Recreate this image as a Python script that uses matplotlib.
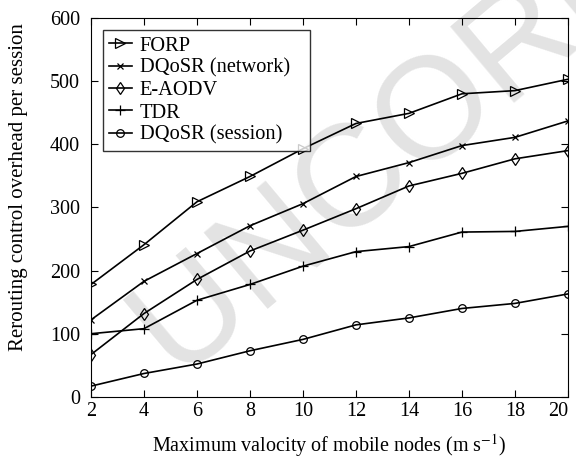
import matplotlib.pyplot as plt

plt.rcParams["font.family"] = ["Liberation Serif", "DejaVu Serif"]
plt.rcParams["mathtext.fontset"] = "stix"

speed = [2, 4, 6, 8, 10, 12, 14, 16, 18, 20]
forp = [178, 241, 309, 349, 393, 433, 449, 480, 485, 503]
dqosr_net = [122, 183, 227, 271, 306, 349, 371, 398, 411, 437]
eaodv = [67, 132, 186, 231, 264, 298, 334, 354, 377, 390]
tdr = [100, 108, 153, 178, 207, 230, 238, 261, 262, 270]
dqosr_ses = [17, 37, 52, 73, 91, 114, 125, 140, 148, 163]

fig = plt.figure(figsize=(5.76, 4.62), dpi=100)
ax = fig.add_axes([0.158, 0.141, 0.828, 0.820])

# watermark
ax.text(0.195, 0.12, "UNCORRECTED PROOF", transform=fig.transFigure,
        rotation=40, fontsize=104, color="#e3e3e3", family="Liberation Sans",
        ha="left", va="bottom", zorder=0, clip_on=False)

kw = dict(color="black", lw=1.2, mfc="none", mec="black", ms=6.5, mew=0.9)
ax.plot(speed, forp, marker=">", label="FORP", **kw)
ax.plot(speed, dqosr_net, marker="x", label="DQoSR (network)", **dict(kw, ms=4))
ax.plot(speed, eaodv, marker="d", label="E-AODV", **kw)
ax.plot(speed, tdr, marker="+", label="TDR", **kw)
ax.plot(speed, dqosr_ses, marker="o", label="DQoSR (session)", **dict(kw, ms=5.5))

ax.set_xlim(2, 20)
ax.set_ylim(0, 600)
ax.set_xticks(speed)
ax.set_yticks(range(0, 601, 100))
ax.tick_params(direction="in", top=True, right=True, labelsize=14.5, length=5)
ax.tick_params(axis="y", pad=8)
ax.get_xticklabels()[-1].set_horizontalalignment("right")
ax.set_xlabel("Maximum valocity of mobile nodes (m s$^{-1}$)", fontsize=14.5, labelpad=8)
ax.set_ylabel("Rerouting control overhead per session", fontsize=15)
ax.yaxis.set_label_coords(-0.132, 0.554)

leg = ax.legend(loc="upper left", bbox_to_anchor=(0.025, 0, 0.434, 0.968),
                mode="expand", borderaxespad=0, fontsize=14.7, frameon=True,
                fancybox=False, edgecolor="black", handlelength=1.1,
                borderpad=0.3, labelspacing=0.15, handletextpad=0.4)
leg.get_frame().set_linewidth(1.0)

fig.savefig("out.png", dpi=100)
